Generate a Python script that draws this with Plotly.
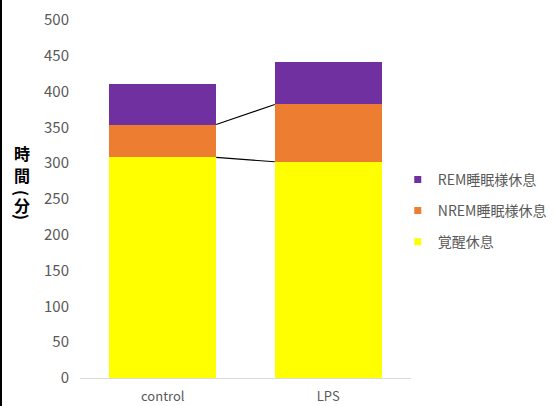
import plotly.graph_objects as go

categories = ["control", "LPS"]
wake_rest = [308, 302]
nrem_rest = [46, 80]
rem_rest = [56, 60]
series_names = ["覚醒休息", "NREM睡眠様休息", "REM睡眠様休息"]
colors = ["#FFFF00", "#ED7D31", "#7030A0"]
y_ticks = list(range(0, 501, 50))
y_title_chars = ["時", "間", "(", "分", ")"]

FONT = "Noto Sans CJK JP, Noto Sans, sans-serif"
GRAY = "#595959"
bargap = 0.354
bw = 1 - bargap
PLOT_TOP, PLOT_H, PLOT_L, PLOT_W = 20, 358, 80, 331

fig = go.Figure()
series = [wake_rest, nrem_rest, rem_rest]
for name, vals, col in zip(series_names, series, colors):
    fig.add_trace(go.Bar(x=categories, y=vals, name=name, marker=dict(color=col, line=dict(width=0)),
                         showlegend=False))
# legend entries with small square markers (top to bottom: REM, NREM, wake)
for name, col in list(zip(series_names, colors))[::-1]:
    fig.add_trace(go.Scatter(x=[None], y=[None], mode="markers", name=name, legendgroup="lg_" + name,
                             marker=dict(symbol="square", size=7, color=col)))

# series lines (Excel style) connecting stacked segment tops
cum1 = wake_rest
cum2 = [a + b for a, b in zip(wake_rest, nrem_rest)]
for cum in (cum1, cum2):
    fig.add_shape(type="line", xref="x", yref="y",
                  x0=0 + bw / 2, y0=cum[0], x1=1 - bw / 2, y1=cum[1],
                  line=dict(color="black", width=1.2))

# thin black left border
fig.add_shape(type="rect", xref="paper", yref="paper",
              x0=-PLOT_L / PLOT_W, x1=-(PLOT_L - 2) / PLOT_W, y0=-0.2, y1=1.2,
              fillcolor="black", line=dict(width=0), layer="above")

# vertical (stacked) y-axis title
title_px = [153, 175, 193, 205, 217]
for ch, py in zip(y_title_chars, title_px):
    is_paren = ch in "()"
    fig.add_annotation(xref="paper", yref="paper", x=(22 - PLOT_L) / PLOT_W,
                       y=1 - (py - PLOT_TOP) / PLOT_H,
                       text="<b>" + ch + "</b>", showarrow=False,
                       textangle=90 if is_paren else 0,
                       font=dict(family=FONT, size=16, color="black"),
                       xanchor="center", yanchor="middle", borderpad=0)

fig.update_layout(
    width=555, height=406,
    margin=dict(l=PLOT_L, r=555 - PLOT_L - PLOT_W, t=PLOT_TOP, b=406 - PLOT_TOP - PLOT_H, autoexpand=False),
    barmode="stack", bargap=bargap,
    plot_bgcolor="white", paper_bgcolor="white",
    font=dict(family=FONT, size=14, color=GRAY),
    legend=dict(x=0.96, xanchor="left", y=0.467, yanchor="middle",
                traceorder="grouped", tracegroupgap=10,
                font=dict(family=FONT, size=14, color=GRAY), itemwidth=30),
    xaxis=dict(showline=True, linecolor="#D9D9D9", linewidth=1, ticks="",
               showgrid=False, zeroline=False, ticklabelstandoff=6, automargin=False,
               tickfont=dict(family=FONT, size=13, color=GRAY)),
    yaxis=dict(range=[0, 500], tickvals=y_ticks, showline=False, showgrid=False,
               zeroline=False, ticks="", ticklabelstandoff=10, automargin=False,
               tickfont=dict(family=FONT, size=15, color=GRAY)),
)

fig.write_html("out.html")
